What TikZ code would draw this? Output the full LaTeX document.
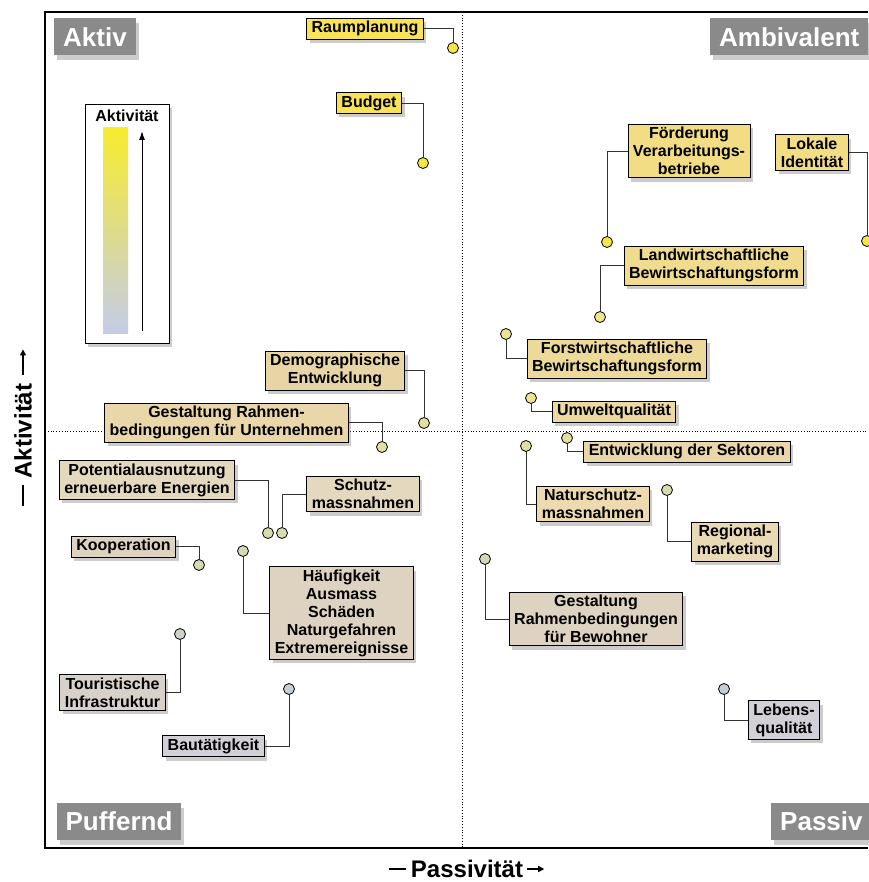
\documentclass[tikz,border=0pt]{standalone}
\usepackage{fontspec}
\setmainfont{Liberation Sans}
\usetikzlibrary{shadows,arrows.meta}
\definecolor{fa}{HTML}{F7E25A}
\definecolor{fb}{HTML}{F3DD84}
\definecolor{fc}{HTML}{F1DB8E}
\definecolor{fd}{HTML}{EEDA98}
\definecolor{fe}{HTML}{ECD8A0}
\definecolor{ff}{HTML}{E8D5A6}
\definecolor{fg}{HTML}{E9D7AA}
\definecolor{fh}{HTML}{EDDBAF}
\definecolor{fi}{HTML}{EAD9B5}
\definecolor{fj}{HTML}{E4D8BE}
\definecolor{fk}{HTML}{DED3C0}
\definecolor{fl}{HTML}{D8D1CA}
\definecolor{fm}{HTML}{D2D0D6}
\definecolor{da}{HTML}{F6E645}
\definecolor{db}{HTML}{EEE787}
\definecolor{dc}{HTML}{E9E592}
\definecolor{dd}{HTML}{E1E09F}
\definecolor{de}{HTML}{D8DCAC}
\definecolor{df}{HTML}{D3D9B3}
\definecolor{dg}{HTML}{CDD3C6}
\definecolor{dh}{HTML}{C6CDD6}
\definecolor{quadgray}{HTML}{8A8A8A}
\definecolor{legtop}{HTML}{F8EC2E}
\definecolor{legmid}{HTML}{E2DC8C}
\definecolor{legbot}{HTML}{C4CCE8}
\begin{document}
\begin{tikzpicture}[x=1pt,y=-1pt,
  lab/.style={draw=black, line width=0.9pt, inner xsep=5pt, inner ysep=3pt, align=center,
    font=\fontsize{16}{18}\selectfont\bfseries,
    drop shadow={opacity=0.4, shadow xshift=3pt, shadow yshift=-4pt}},
  quad/.style={fill=quadgray, text=white, font=\fontsize{26}{28}\selectfont\bfseries,
    inner xsep=9pt, inner ysep=0pt, minimum height=37pt,
    drop shadow={opacity=0.4, shadow xshift=3pt, shadow yshift=-5pt}},
  dot/.style={circle, draw=black, line width=0.8pt, minimum size=11pt, inner sep=0pt},
  conn/.style={draw=black!80, line width=0.9pt},
  axlab/.style={font=\fontsize{24}{25}\selectfont\bfseries, inner sep=0pt},
  axdash/.style={line width=1.3pt},
  axarrow/.style={line width=1.3pt, -{Triangle[length=6pt,width=6pt]}},
]
\useasboundingbox (0,0) rectangle (868,882);
\fill[white] (0,0) rectangle (868,882);

% frame and mid lines
\draw[dotted, line width=0.8pt] (462,12) -- (462,848);
\draw[dotted, line width=0.8pt] (45,431) -- (868,431);
\draw[line width=1.5pt] (868,12) -- (45,12) -- (45,848) -- (868,848);

% quadrant labels
\node[quad] (aktiv) at (95,37) {Aktiv};
\node[quad, anchor=west] (ambi) at (710,37) {Ambivalent};
\node[quad] (puff) at (119,821) {Puffernd};
\node[quad, anchor=west] (passiv) at (771,821) {Passiv};

% legend
\node[draw=black, line width=0.9pt, fill=white, minimum width=84pt, minimum height=239pt, inner sep=0pt,
  drop shadow={opacity=0.4, shadow xshift=3pt, shadow yshift=-4pt}] (legend) at (127,223.5) {};
\node[font=\fontsize{16}{17}\selectfont\bfseries] (legtitle) at (127,115.5) {Aktivität};
\shade[top color=legtop, middle color=legmid, bottom color=legbot] (103,128) rectangle (128,333);
\coordinate (arrlo) at (142,331);
\coordinate (arrhi) at (142,131);
\draw[-{Latex[length=9pt,width=6pt]}, line width=1pt] (arrlo) -- (arrhi);

% axis labels
\node[axlab] (xlab) at (467,869) {Passivität};
\draw[axdash] ([xshift=-22pt]xlab.west) -- ([xshift=-5pt]xlab.west);
\draw[axarrow] ([xshift=4pt]xlab.east) -- ([xshift=21pt]xlab.east);
\node[axlab, rotate=90] (ylab) at (23,431) {Aktivität};
\draw[axdash] ([yshift=-6pt]ylab.west) -- ([yshift=-27pt]ylab.west);
\draw[axarrow] ([yshift=8pt]ylab.east) -- ([yshift=34pt]ylab.east);

% dots
\node[dot, fill=da] (raumdot) at (453,48) {};
\node[dot, fill=da] (budgetdot) at (423,163) {};
\node[dot, fill=da] (foerddot) at (607,242) {};
\node[dot, fill=da] (lokaldot) at (867,241) {};
\node[dot, fill=db] (landwdot) at (600,317) {};
\node[dot, fill=dc] (forstdot) at (506,334) {};
\node[dot, fill=dc] (umweltdot) at (531,398) {};
\node[dot, fill=dd] (sektordot) at (567,438) {};
\node[dot, fill=dd] (naturdot) at (526,446) {};
\node[dot, fill=de] (regiodot) at (667,490) {};
\node[dot, fill=df] (bewohndot) at (485,559) {};
\node[dot, fill=dh] (lebensdot) at (724,689) {};
\node[dot, fill=dd] (demodot) at (424,423) {};
\node[dot, fill=dd] (unterndot) at (382,447) {};
\node[dot, fill=de] (potentdot) at (268,533) {};
\node[dot, fill=de] (schutzdot) at (282,533) {};
\node[dot, fill=df] (koopdot) at (199,565) {};
\node[dot, fill=df] (haeufdot) at (243,551) {};
\node[dot, fill=dg] (tourdot) at (180,634) {};
\node[dot, fill=dh] (baudot) at (289,689) {};

% labels
\node[lab, fill=fa] (raum) at (365,28.5) {Raumplanung};
\node[lab, fill=fa] (budget) at (369,103) {Budget};
\node[lab, fill=fb] (foerd) at (689,151) {Förderung\\Verarbeitungs-\\betriebe};
\node[lab, fill=fb] (lokal) at (812,152.5) {Lokale\\Identität};
\node[lab, fill=fc] (landw) at (714,265.5) {Landwirtschaftliche\\Bewirtschaftungsform};
\node[lab, fill=fd] (forst) at (617,358.5) {Forstwirtschaftliche\\Bewirtschaftungsform};
\node[lab, fill=fe] (umwelt) at (614,411.5) {Umweltqualität};
\node[lab, fill=fg] (sektor) at (687,451.5) {Entwicklung der Sektoren};
\node[lab, fill=fh] (natur) at (593,504) {Naturschutz-\\massnahmen};
\node[lab, fill=fi] (regio) at (735,541.5) {Regional-\\marketing};
\node[lab, fill=fk] (bewohn) at (596,619) {Gestaltung\\Rahmenbedingungen\\für Bewohner};
\node[lab, fill=fm] (lebens) at (784,720) {Lebens-\\qualität};
\node[lab, fill=ff] (demo) at (335,370.5) {Demographische\\Entwicklung};
\node[lab, fill=fg] (untern) at (226.5,422.5) {Gestaltung Rahmen-\\bedingungen für Unternehmen};
\node[lab, fill=fj] (potent) at (147,480) {Potentialausnutzung\\erneuerbare Energien};
\node[lab, fill=fj] (schutz) at (363,494) {Schutz-\\massnahmen};
\node[lab, fill=fk] (koop) at (123.5,546.5) {Kooperation};
\node[lab, fill=fk] (haeuf) at (341.5,613) {Häufigkeit\\Ausmass\\Schäden\\Naturgefahren\\Extremereignisse};
\node[lab, fill=fl] (tour) at (112.5,692.5) {Touristische\\Infrastruktur};
\node[lab, fill=fm] (bau) at (213.5,746) {Bautätigkeit};

% connectors
\draw[conn] (raum.east) -| (raumdot.north);
\draw[conn] (budget.east) -| (budgetdot.north);
\draw[conn] (foerd.west) -| (foerddot.north);
\draw[conn] (lokal.east) -| (lokaldot.north);
\draw[conn] (landw.west) -| (landwdot.north);
\draw[conn] (forst.west) -| (forstdot.south);
\draw[conn] (umwelt.west) -| (umweltdot.south);
\draw[conn] (sektor.west) -| (sektordot.south);
\draw[conn] (natur.west) -| (naturdot.south);
\draw[conn] (regio.west) -| (regiodot.south);
\draw[conn] (bewohn.west) -| (bewohndot.south);
\draw[conn] (lebens.west) -| (lebensdot.south);
\draw[conn] (demo.east) -| (demodot.north);
\draw[conn] (untern.east) -| (unterndot.north);
\draw[conn] (potent.east) -| (potentdot.north);
\draw[conn] (schutz.west) -| (schutzdot.north);
\draw[conn] (koop.east) -| (koopdot.north);
\draw[conn] (haeuf.west) -| (haeufdot.south);
\draw[conn] (tour.east) -| (tourdot.south);
\draw[conn] (bau.east) -| (baudot.south);
\end{tikzpicture}
\end{document}
